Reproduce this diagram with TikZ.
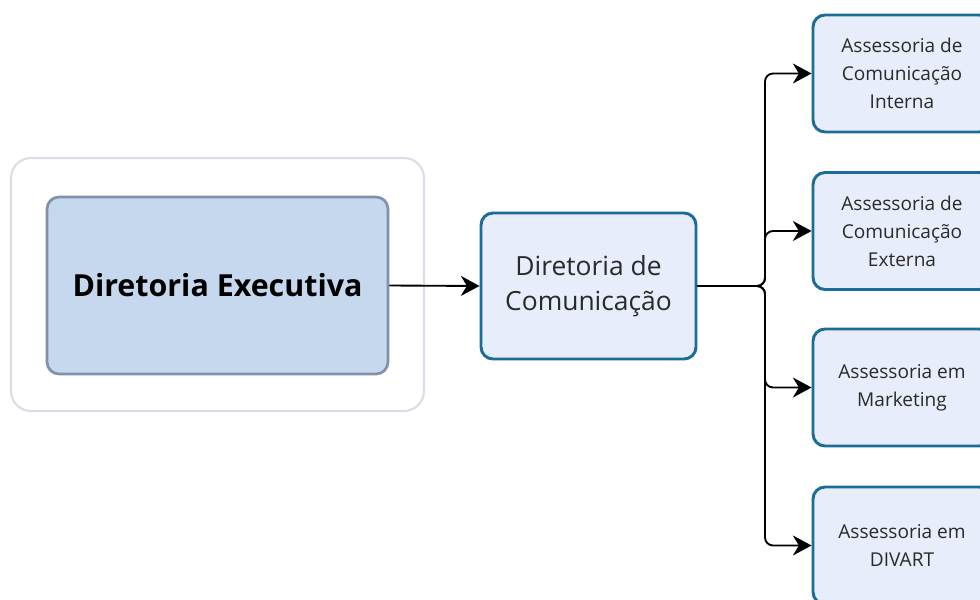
\documentclass[tikz,border=0pt]{standalone}
\usepackage{fontspec}
\setmainfont{Open Sans}
\usetikzlibrary{arrows.meta}
\definecolor{outerline}{HTML}{D8DEE6}
\definecolor{innerfill}{HTML}{C6D8EE}
\definecolor{innerline}{HTML}{7F92AA}
\definecolor{boxfill}{HTML}{E8EDFB}
\definecolor{boxline}{HTML}{1B6C97}
\definecolor{txt}{HTML}{2A2A2A}
\tikzset{
  outerbox/.style={draw=outerline, line width=1.6pt, fill=white, rounded corners=15pt,
    minimum width=309.75pt, minimum height=189.75pt, inner sep=0pt},
  execbox/.style={draw=innerline, line width=2pt, fill=innerfill, rounded corners=9pt,
    minimum width=255.75pt, minimum height=132.75pt, inner sep=0pt,
    font=\fontsize{22.8}{26}\selectfont\bfseries, text=black},
  dirbox/.style={draw=boxline, line width=2.2pt, fill=boxfill, rounded corners=9pt,
    minimum width=161.25pt, minimum height=109.5pt, inner sep=0pt, align=center,
    font=\fontsize{19.8}{26}\selectfont, text=txt},
  subbox/.style={draw=boxline, line width=2.2pt, fill=boxfill, rounded corners=9pt,
    minimum width=133.5pt, minimum height=87.75pt, inner sep=0pt, align=center,
    font=\fontsize{14.3}{21}\selectfont, text=txt},
  conn/.style={draw=black, line width=1.4pt, rounded corners=6pt,
    -{Stealth[length=14pt,width=15pt,inset=4.5pt]}},
}
\begin{document}
\begin{tikzpicture}[x=0.75pt,y=-0.75pt]
\useasboundingbox (0,0) rectangle (980,599);
\clip (0,0) rectangle (980,599);
\node[outerbox] (outer) at (217.5,284.5) {};
\node[execbox] (exec) at (217.5,285.5) {Diretoria Executiva};
\node[dirbox] (dir) at (588.5,286) {Diretoria de\\Comunicação};
\node[subbox] (a1) at (902,73.5) {Assessoria de\\Comunicação\\Interna};
\node[subbox] (a2) at (902,231) {Assessoria de\\Comunicação\\Externa};
\node[subbox] (a3) at (902,387.5) {Assessoria em\\Marketing};
\node[subbox] (a4) at (902,545.5) {Assessoria em\\DIVART};
\coordinate (trunk) at (765,286);
\draw[conn] (exec.east) -- (dir.west);
\draw[conn] (dir.east) -- (trunk) |- (a1.west);
\draw[conn] (dir.east) -- (trunk) |- (a2.west);
\draw[conn] (dir.east) -- (trunk) |- (a3.west);
\draw[conn] (dir.east) -- (trunk) |- (a4.west);
\end{tikzpicture}
\end{document}
